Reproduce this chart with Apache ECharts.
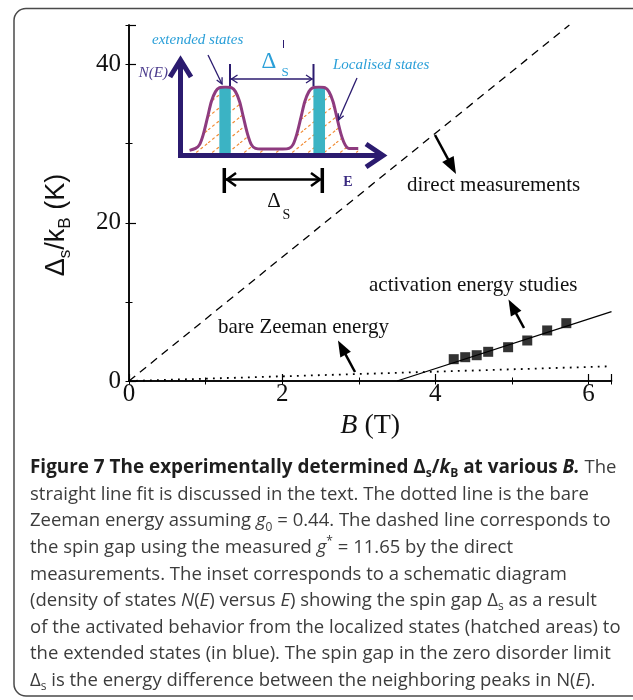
<!DOCTYPE html>
<html><head><meta charset="utf-8">
<script src="https://cdn.jsdelivr.net/npm/echarts@6/dist/echarts.min.js"></script>
<style>html,body{margin:0;padding:0;background:#fff}#c{width:633px;height:700px}</style>
</head><body><div id="c"></div>
<script>
// ---------- main plot data ----------
const directB = [0, 5.75];           // dashed line (g* = 11.65)
const directGap = [0, 45];
const zeemanB = [0, 6.3];            // dotted line (g0 = 0.44)
const zeemanGap = [0, 1.86];
const fitB = [3.5, 6.3];             // straight line fit
const fitGap = [0, 8.78];
const activationB = [4.24, 4.39, 4.54, 4.69, 4.95, 5.20, 5.46, 5.71];
const activationGap = [2.76, 3.01, 3.26, 3.69, 4.27, 5.12, 6.39, 7.31];
const xTickValues = [0, 2, 4, 6];
const yTickValues = [0, 20, 40];

// ---------- inset (schematic density of states) ----------
const insetE = [0.42,0.71,0.91,1.10,1.30,1.49,1.69,1.89,2.18,2.47,2.67,2.87,3.06,3.26,3.45,3.65,3.95,4.5,4.99,5.29,5.49,5.68,5.88,6.07,6.27,6.47,6.76,7.05,7.25,7.45,7.64,7.84,8.04,8.23,8.69];
const insetN = [0.04,0.07,0.127,0.29,0.54,0.78,0.93,0.989,1.0,0.989,0.93,0.78,0.54,0.29,0.127,0.07,0.06,0.06,0.06,0.07,0.127,0.29,0.54,0.78,0.93,0.989,1.0,0.989,0.93,0.78,0.54,0.29,0.127,0.07,0.07];
const extLeftE = [1.88, 2.03, 2.18, 2.32, 2.44];
const extLeftN = [0.985, 0.997, 1.0, 0.995, 0.982];
const extRightE = [6.49, 6.62, 6.76, 6.90, 7.06];
const extRightN = [0.985, 0.997, 1.0, 0.995, 0.982];

// ---------- caption ----------
const captionLines = [
 '{b|Figure 7 The experimentally determined Δ}{bs|s}{b|/}{bi|k}{bs|B}{b| at various }{bi|B.} The',
 'straight line fit is discussed in the text. The dotted line is the bare',
 'Zeeman energy assuming {i|g}{s|0} = 0.44. The dashed line corresponds to',
 'the spin gap using the measured {i|g}{p|*} = 11.65 by the direct',
 'measurements. The inset corresponds to a schematic diagram',
 '(density of states {i|N}({i|E}) versus {i|E}) showing the spin gap Δ{s|s} as a result',
 'of the activated behavior from the localized states (hatched areas) to',
 'the extended states (in blue). The spin gap in the zero disorder limit',
 'Δ{s|s} is the energy difference between the neighboring peaks in N({i|E}).'
];

const zip = (a, b) => a.map((v, i) => [v, b[i]]);
const serif = 'Liberation Serif';
const navy = '#2b1b6f';
const cyan = '#2a9fd8';

function hatchPattern() {
  const c = document.createElement('canvas');
  c.width = 16; c.height = 13;
  const g = c.getContext('2d');
  g.strokeStyle = '#f28c35'; g.lineWidth = 1.2; g.setLineDash([3, 2.5]);
  g.beginPath(); g.moveTo(0, 13); g.lineTo(16, 0); g.stroke();
  return c;
}

function unit(x1, y1, x2, y2) { const dx = x2 - x1, dy = y2 - y1, L = Math.hypot(dx, dy); return [dx / L, dy / L]; }
function solidArrow(x1, y1, x2, y2, len, w, lw, color) {
  const [ux, uy] = unit(x1, y1, x2, y2);
  const bx = x2 - ux * len, by = y2 - uy * len, nx = -uy, ny = ux;
  return [
    { type: 'polyline', z: 20, shape: { points: [[x1, y1], [bx + ux * 3, by + uy * 3]] }, style: { stroke: color, lineWidth: lw, fill: null } },
    { type: 'polygon', z: 20, shape: { points: [[x2, y2], [bx + nx * w / 2, by + ny * w / 2], [bx - nx * w / 2, by - ny * w / 2]] }, style: { fill: color } }
  ];
}
function openHead(x1, y1, x2, y2, len, w, lw, color) {
  const [ux, uy] = unit(x1, y1, x2, y2);
  const bx = x2 - ux * len, by = y2 - uy * len, nx = -uy, ny = ux;
  return { type: 'polyline', z: 20, shape: { points: [[bx + nx * w / 2, by + ny * w / 2], [x2, y2], [bx - nx * w / 2, by - ny * w / 2]] }, style: { stroke: color, lineWidth: lw, fill: null } };
}
function seg(x1, y1, x2, y2, lw, color) {
  return { type: 'polyline', z: 20, shape: { points: [[x1, y1], [x2, y2]] }, style: { stroke: color, lineWidth: lw, fill: null } };
}
function txt(x, y, text, style) {
  return { type: 'text', z: 20, x: x, y: y, style: Object.assign({ text: text, fill: '#111', fontFamily: serif, align: 'left', verticalAlign: 'middle' }, style) };
}

const graphics = [
  { type: 'rect', z: 0, shape: { x: 14, y: 8.5, width: 660, height: 687.5, r: 12 }, style: { fill: null, stroke: '#4a4a4a', lineWidth: 1.5 } },
  // y-axis title
  { type: 'text', z: 20, x: 57, y: 225, rotation: Math.PI / 2,
    style: { text: '{a|Δ}{s|s}{a|/k}{s|B}{a| (K)}', align: 'center', verticalAlign: 'middle',
      rich: { a: { fontFamily: 'Liberation Sans', fontSize: 27, lineHeight: 34, fill: '#111' },
              s: { fontFamily: 'Liberation Sans', fontSize: 17, lineHeight: 17, verticalAlign: 'bottom', fill: '#111' } } } },
  // annotations
  txt(407, 185, 'direct measurements', { fontSize: 21 }),
  txt(369, 285, 'activation energy studies', { fontSize: 21 }),
  txt(218, 327, 'bare Zeeman energy', { fontSize: 21 }),
  ...solidArrow(435, 135, 456, 174, 17, 13, 2.5, '#000'),
  ...solidArrow(524, 328, 508.5, 299.5, 16, 12, 2.5, '#000'),
  ...solidArrow(355, 372, 338, 340.5, 16, 12, 2.5, '#000'),
  // inset axes
  seg(180.5, 158, 180.5, 62, 5, navy),
  openHead(180.5, 120, 180.5, 60, 17, 21, 5, navy),
  seg(178, 155.5, 381, 155.5, 5, navy),
  openHead(300, 155.5, 383, 155.5, 17, 23, 5, navy),
  txt(168, 73, 'N(E)', { fontSize: 15, fontStyle: 'italic', fill: '#4a3a8c', align: 'right' }),
  txt(348, 182, 'E', { fontSize: 14, fontWeight: 'bold', fill: '#3a2a80', align: 'center' }),
  txt(152, 40, 'extended states', { fontSize: 15, fontStyle: 'italic', fill: cyan }),
  txt(333, 65, 'Localised states', { fontSize: 15, fontStyle: 'italic', fill: cyan }),
  seg(208, 55, 222, 84, 1.3, navy),
  openHead(208, 55, 222, 84, 6, 6, 1.3, navy),
  seg(357, 78, 338.5, 120, 1.3, navy),
  openHead(357, 78, 338.5, 120, 6, 6, 1.3, navy),
  // Delta'_s marker
  seg(230, 64, 230, 86, 2, navy),
  seg(313.5, 64, 313.5, 86, 2, navy),
  seg(231, 79, 312.5, 79, 1.3, navy),
  openHead(260, 79, 231.5, 79, 6, 8, 1.3, navy),
  openHead(280, 79, 312, 79, 6, 8, 1.3, navy),
  txt(269, 62, 'Δ', { fontSize: 23, fill: cyan, align: 'center' }),
  txt(285, 72.5, 'S', { fontSize: 13, fill: cyan, align: 'center' }),
  seg(283.5, 40, 283.5, 48, 1, navy),
  // Delta_s marker
  seg(224.3, 168, 224.3, 193, 3.5, '#000'),
  seg(322.3, 168, 322.3, 193, 3.5, '#000'),
  seg(226, 179.5, 320.5, 179.5, 2.5, '#000'),
  openHead(260, 179.5, 227, 179.5, 9, 13, 2.5, '#000'),
  openHead(290, 179.5, 320, 179.5, 9, 13, 2.5, '#000'),
  txt(274, 201.5, 'Δ', { fontSize: 21, align: 'center' }),
  txt(286.5, 215, 'S', { fontSize: 14, align: 'center' })
];

const CF = 'Open Sans', CS = 18.5, CB = 18.9;
const capRich = {
  b: { fontWeight: 'bold', fill: '#1e1e1e', fontSize: CB, fontFamily: CF, lineHeight: 24 },
  bi: { fontWeight: 'bold', fontStyle: 'italic', fill: '#1e1e1e', fontSize: CB, fontFamily: CF, lineHeight: 24 },
  bs: { fontWeight: 'bold', fill: '#1e1e1e', fontSize: 12, fontFamily: CF, lineHeight: 14, verticalAlign: 'bottom' },
  i: { fontStyle: 'italic', fill: '#3c3c3c', fontSize: CS, fontFamily: CF, lineHeight: 24 },
  s: { fill: '#3c3c3c', fontSize: 12, fontFamily: CF, lineHeight: 14, verticalAlign: 'bottom' },
  p: { fill: '#3c3c3c', fontSize: 12, fontFamily: CF, lineHeight: 14, verticalAlign: 'top' }
};
captionLines.forEach((line, k) => {
  graphics.push({ type: 'text', z: 20, x: 30, y: 468 + k * 26.6,
    style: { text: line, fontFamily: CF, fontSize: CS, lineHeight: 24, fill: '#3c3c3c', align: 'left', verticalAlign: 'middle', rich: capRich } });
});

const axisFont = { fontFamily: serif, fontSize: 25, color: '#111' };
const blackLine = { lineStyle: { color: '#000', width: 1.5 } };
const minorAxis = { axisLine: { show: false }, splitLine: { show: false }, axisLabel: { show: false },
  axisTick: { inside: true, length: 3.5, lineStyle: { color: '#000', width: 1 } } };
const plotBox = { left: 129, top: 25, width: 482.5, height: 356 };

const option = {
  animation: false,
  backgroundColor: '#fff',
  grid: [
    plotBox,
    { left: 181, top: 87, width: 204, height: 66 },
    Object.assign({}, plotBox)
  ],
  xAxis: [
    { type: 'value', gridIndex: 0, min: 0, max: 6.3, interval: 2, position: 'bottom',
      axisLine: blackLine, splitLine: { show: false },
      axisTick: { inside: true, length: 7, lineStyle: { color: '#000', width: 1.2 } },
      axisLabel: Object.assign({ margin: 1, formatter: v => (xTickValues.includes(v) ? String(v) : '') }, axisFont),
      name: '{i|B}{r| (T)}', nameLocation: 'middle', nameGap: 30,
      nameTextStyle: { rich: { i: { fontFamily: serif, fontSize: 28, fontStyle: 'italic', color: '#111' }, r: { fontFamily: serif, fontSize: 28, color: '#111' } } } },
    Object.assign({ type: 'value', gridIndex: 0, min: 0, max: 6.3, interval: 1, position: 'top' }, minorAxis, { axisLine: blackLine }),
    { type: 'value', gridIndex: 1, min: 0, max: 10, show: false },
    Object.assign({ type: 'value', gridIndex: 2, min: 0, max: 6.3, interval: 1, position: 'bottom' }, minorAxis)
  ],
  yAxis: [
    { type: 'value', gridIndex: 0, min: 0, max: 45, interval: 20, position: 'left',
      axisLine: blackLine, splitLine: { show: false },
      axisTick: { inside: true, length: 7, lineStyle: { color: '#000', width: 1.2 } },
      axisLabel: Object.assign({ margin: 8, formatter: v => (yTickValues.includes(v) ? String(v) : '') }, axisFont) },
    Object.assign({ type: 'value', gridIndex: 0, min: 0, max: 45, interval: 10, position: 'right' }, minorAxis, { axisLine: blackLine }),
    { type: 'value', gridIndex: 1, min: 0, max: 1, show: false },
    Object.assign({ type: 'value', gridIndex: 2, min: 0, max: 45, interval: 10, position: 'left' }, minorAxis)
  ],
  series: [
    { type: 'line', name: 'direct', xAxisIndex: 0, yAxisIndex: 0, data: zip(directB, directGap), symbol: 'none', z: 3,
      lineStyle: { color: '#000', width: 1.3, type: [8, 6] } },
    { type: 'line', name: 'zeeman', xAxisIndex: 0, yAxisIndex: 0, data: zip(zeemanB, zeemanGap), symbol: 'none', z: 3,
      lineStyle: { color: '#000', width: 1.8, type: [1.8, 5.2] } },
    { type: 'line', name: 'fit', xAxisIndex: 0, yAxisIndex: 0, data: zip(fitB, fitGap), symbol: 'none', z: 3,
      lineStyle: { color: '#000', width: 1.3 } },
    { type: 'scatter', name: 'activation', xAxisIndex: 0, yAxisIndex: 0, data: zip(activationB, activationGap),
      symbol: 'rect', symbolSize: 10, itemStyle: { color: '#000' }, z: 4 },
    // inset
    { type: 'line', name: 'localised', xAxisIndex: 2, yAxisIndex: 2, data: zip(insetE, insetN), symbol: 'none', smooth: 0.3, z: 2,
      lineStyle: { width: 0, opacity: 0 }, areaStyle: { color: { image: hatchPattern(), repeat: 'repeat' }, opacity: 1 } },
    { type: 'line', name: 'extLeft', xAxisIndex: 2, yAxisIndex: 2, data: zip(extLeftE, extLeftN), symbol: 'none', z: 3,
      lineStyle: { width: 0, opacity: 0 }, areaStyle: { color: '#3bb3c4', opacity: 1 } },
    { type: 'line', name: 'extRight', xAxisIndex: 2, yAxisIndex: 2, data: zip(extRightE, extRightN), symbol: 'none', z: 3,
      lineStyle: { width: 0, opacity: 0 }, areaStyle: { color: '#3bb3c4', opacity: 1 } },
    { type: 'line', name: 'dos', xAxisIndex: 2, yAxisIndex: 2, data: zip(insetE, insetN), symbol: 'none', smooth: 0.3, z: 4,
      lineStyle: { color: '#8e3b7f', width: 3 } }
  ],
  graphic: { elements: graphics }
};

const chart = echarts.init(document.getElementById('c'));
chart.setOption(option);
</script>
</body></html>
